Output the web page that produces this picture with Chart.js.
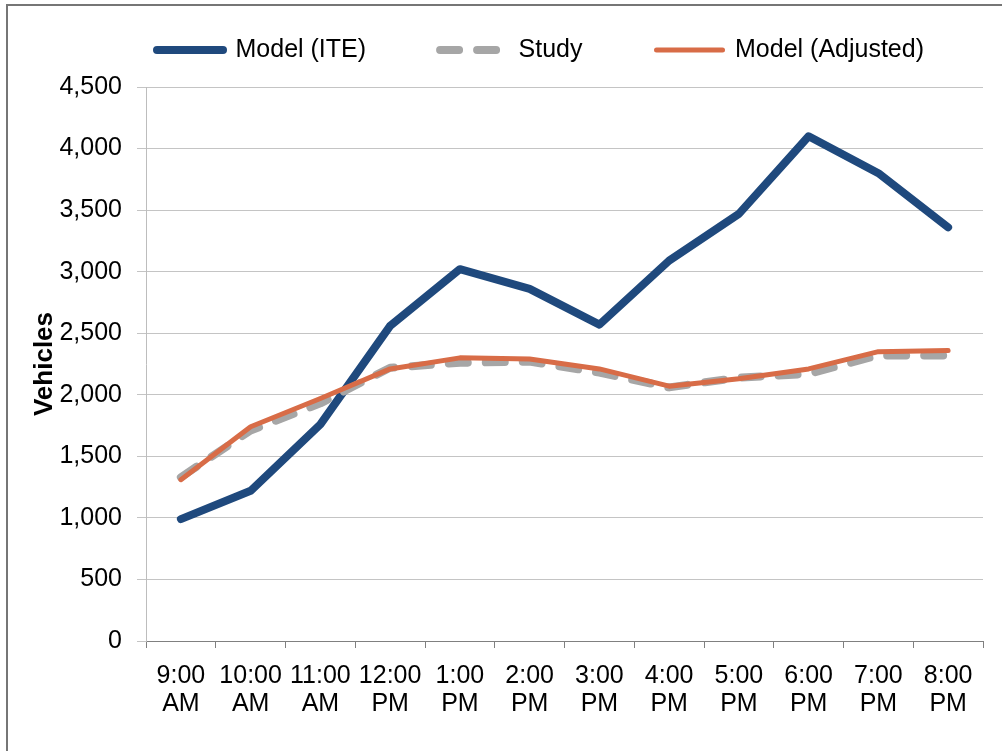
<!DOCTYPE html>
<html>
<head>
<meta charset="utf-8">
<script src="https://cdn.jsdelivr.net/npm/chart.js@4/dist/chart.umd.min.js"></script>
<style>
  html, body { margin: 0; padding: 0; background: #ffffff; }
  #wrap { position: relative; width: 1002px; height: 751px; overflow: hidden; }
  #frame {
    position: absolute; left: 6px; top: 4px; right: -4px; bottom: -4px;
    border-top: 2px solid #767676; border-left: 2px solid #767676;
    pointer-events: none;
  }
  canvas { position: absolute; left: 0; top: 0; }
</style>
</head>
<body>
<div id="wrap">
  <canvas id="chart" width="1002" height="751"></canvas>
  <div id="frame"></div>
</div>
<script>
// Hourly traffic counts, 9:00 AM to 8:00 PM
const hours = [
  ['9:00', 'AM'], ['10:00', 'AM'], ['11:00', 'AM'], ['12:00', 'PM'],
  ['1:00', 'PM'], ['2:00', 'PM'], ['3:00', 'PM'], ['4:00', 'PM'],
  ['5:00', 'PM'], ['6:00', 'PM'], ['7:00', 'PM'], ['8:00', 'PM']
];
const modelITE      = [990, 1220, 1760, 2560, 3020, 2860, 2570, 3090, 3470, 4100, 3800, 3360];
const study         = [1330, 1710, 1930, 2220, 2260, 2270, 2180, 2060, 2140, 2170, 2320, 2320];
const modelAdjusted = [1310, 1740, 1970, 2210, 2300, 2290, 2210, 2070, 2130, 2210, 2350, 2360];
const yTicks = { min: 0, max: 4500, step: 500 };
const axisTitle = 'Vehicles';

const FONT = "'Liberation Sans Narrow', 'Arial Narrow', 'Liberation Sans', Arial, sans-serif";

// Moves the legend block after layout so it sits in the top band
const legendOffset = {
  id: 'legendOffset',
  afterLayout(chart, args, opts) {
    const lg = chart.legend;
    if (!lg) return;
    lg.left += opts.dx; lg.right += opts.dx;
    lg.top += opts.dy; lg.bottom += opts.dy;
  }
};

// Legend swatches take the dash and cap style of their series line
function lineLegendLabels(chart) {
  const items = Chart.defaults.plugins.legend.labels.generateLabels(chart);
  items.forEach((it) => {
    const ds = chart.data.datasets[it.datasetIndex];
    it.lineDash = ds.borderDash || [];
    it.lineCap = ds.borderCapStyle || 'butt';
    it.lineWidth = ds.borderWidth;
    it.strokeStyle = ds.borderColor;
  });
  return items;
}

new Chart(document.getElementById('chart'), {
  type: 'line',
  data: {
    labels: hours,
    datasets: [
      {
        label: 'Model (ITE)',
        data: modelITE,
        borderColor: '#1f497d',
        backgroundColor: '#1f497d',
        borderWidth: 8,
        borderCapStyle: 'round',
        borderJoinStyle: 'round',
        pointRadius: 0,
        order: 3
      },
      {
        label: 'Study',
        data: study,
        borderColor: '#a6a6a6',
        backgroundColor: '#a6a6a6',
        borderWidth: 8,
        borderDash: [19, 18],
        borderCapStyle: 'round',
        borderJoinStyle: 'round',
        pointRadius: 0,
        order: 2
      },
      {
        label: 'Model (Adjusted)',
        data: modelAdjusted,
        borderColor: '#d86c47',
        backgroundColor: '#d86c47',
        borderWidth: 5,
        borderCapStyle: 'round',
        borderJoinStyle: 'round',
        pointRadius: 0,
        order: 1
      }
    ]
  },
  options: {
    responsive: false,
    devicePixelRatio: 1,
    animation: false,
    events: [],
    layout: { padding: { top: -22, left: 14, right: 19, bottom: 0 } },
    plugins: {
      tooltip: { enabled: false },
      legendOffset: { dx: 42, dy: -14.5 },
      legend: {
        position: 'top',
        labels: {
          usePointStyle: true,
          pointStyle: 'line',
          pointStyleWidth: 66,
          padding: 74,
          color: '#000000',
          font: { family: FONT, size: 25 },
          generateLabels: lineLegendLabels,
          sort: (a, b) => a.datasetIndex - b.datasetIndex
        }
      }
    },
    scales: {
      x: {
        type: 'category',
        offset: true,
        afterFit: (s) => { s.height = 110; },
        grid: {
          offset: true,
          drawOnChartArea: false,
          drawTicks: true,
          tickLength: 7,
          color: '#808080'
        },
        border: { display: true, color: '#808080', width: 1 },
        ticks: {
          autoSkip: false,
          maxRotation: 0,
          padding: 14,
          color: '#000000',
          font: { family: FONT, size: 25, lineHeight: 1.12 }
        }
      },
      y: {
        min: yTicks.min,
        max: yTicks.max,
        afterFit: (s) => { s.width = 132; },
        grid: {
          color: '#c4c4c4',
          lineWidth: 1,
          tickLength: 9
        },
        border: { display: true, color: '#bdbdbd', width: 1 },
        ticks: {
          stepSize: yTicks.step,
          padding: 15,
          color: '#000000',
          font: { family: FONT, size: 25 },
          callback: (v) => Number(v).toLocaleString('en-US')
        },
        title: {
          display: true,
          text: axisTitle,
          color: '#000000',
          padding: { top: 15, bottom: 0 },
          font: { family: FONT, size: 26, weight: 'bold' }
        }
      }
    }
  },
  plugins: [legendOffset]
});
</script>
</body>
</html>
